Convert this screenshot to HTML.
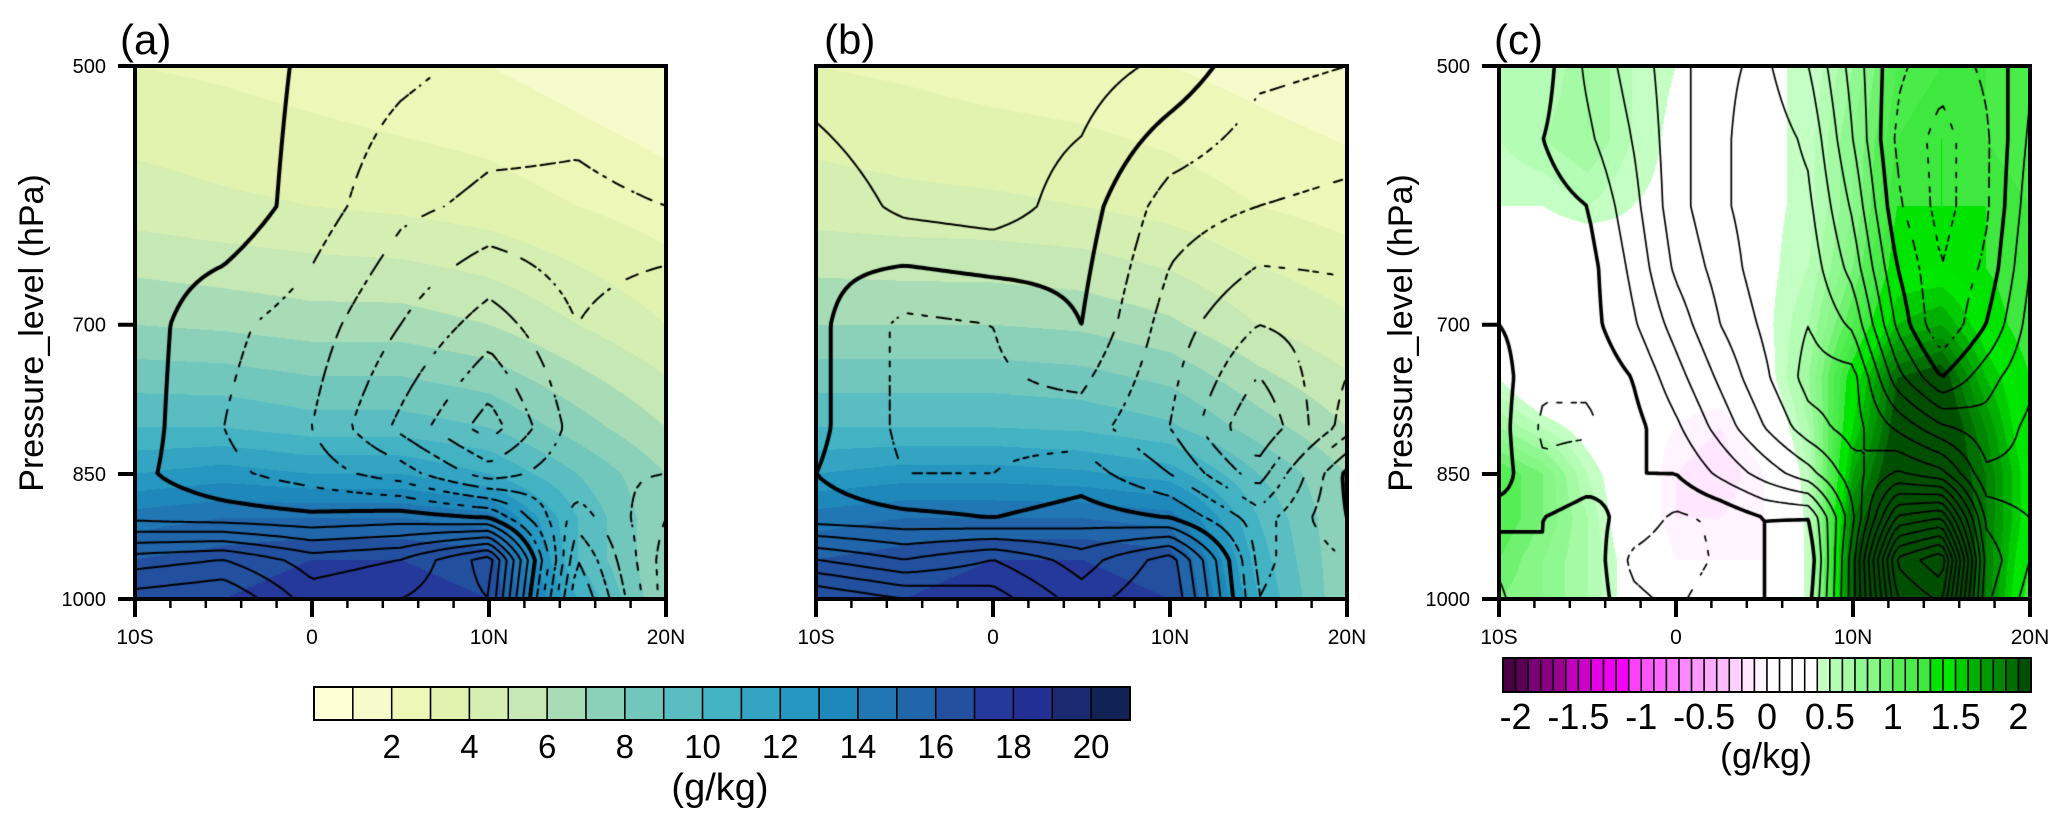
<!DOCTYPE html>
<html><head><meta charset="utf-8">
<style>
html,body{margin:0;padding:0;background:#fff;}
body{width:2067px;height:822px;position:relative;overflow:hidden;font-family:"Liberation Sans",sans-serif;}
canvas{position:absolute;}
svg{position:absolute;left:0;top:0;}
</style></head>
<body>
<canvas id="cva" width="531" height="533" style="left:135px;top:66px"></canvas>
<canvas id="cvb" width="531" height="533" style="left:816px;top:66px"></canvas>
<canvas id="cvc" width="531" height="533" style="left:1499px;top:66px"></canvas>
<svg id="ov" width="2067" height="822"></svg>
<script>
// ---------- data ----------
const latsAB = [-10,-5,0,5,10,15,20];
const presAB = [500,600,700,800,850,900,950,1000];
const qA = [
[3,2.8,2.5,2.2,2,1.5,1],
[4.5,4.2,4,3.8,3.5,3,2.5],
[7,6.8,6.5,6.5,6,5,4],
[10,10,9.5,9.5,9,7.5,6],
[12,12.5,12,12,11,9,7],
[14.5,15,15,15,14.5,10,7],
[16,16.5,17,17,16.5,10,7],
[16,17,17.5,17.5,17,11,7]];
const lineA = [
[0.3,0.3,-0.1,-0.3,-0.5,-0.6,-0.4],
[0.2,0.3,-0.2,-0.7,-0.9,-0.9,-0.8],
[0.2,-0.3,-0.6,-1.2,-1.8,-1.2,-1.6],
[0.2,-0.4,-0.8,-1.7,-2.6,-1.4,-1.4],
[0.1,-0.3,-0.6,-1.0,-1.8,-1.3,-1.2],
[0.3,0.2,0.1,0.2,0.0,-1.8,-0.8],
[1.8,2.0,1.4,1.6,2.6,-2.4,-0.6],
[2.6,2.8,1.8,2.0,2.4,-2.8,-0.6]];
const qB = [
[3,2.8,2.5,2.3,2,1.6,1.2],
[4.5,4.3,4.2,4,3.6,3,2.6],
[7,7,7,6.8,6.2,5,4.2],
[10,10,10,9.8,9.2,7.5,6],
[12,12.5,12.5,12.2,11.5,9,7],
[14.5,15,15,15,14.5,10,7],
[16,16.5,17,17,16.5,10.5,7],
[16,17,17.5,17.5,17,11,7]];
const lineB = [
[0.6,0.8,0.6,0.6,0.3,-0.3,-0.4],
[0.1,0.5,0.6,0.2,-0.6,-0.8,-0.9],
[0.1,-0.5,-0.4,0.0,-1.0,-1.6,-1.4],
[0.1,-0.5,-0.5,-0.6,-1.2,-2.4,-1.0],
[0.0,-0.4,-0.4,-0.2,-0.8,-1.8,0.1],
[0.2,0.1,0.0,0.2,0.0,-1.0,0.0],
[1.6,1.2,1.6,1.0,1.8,-0.9,-0.4],
[2.8,2.4,2.2,1.4,2.0,-0.8,-0.4]];
const latsC = [-10,-7.5,-5,-2.5,0,2.5,5,7.5,10,12.5,15,17.5,20];
const presC = [500,550,600,650,700,750,800,850,900,950,1000];
const diffC = [
[0.5,0.5,0.7,0.5,0.4,0.3,0.4,0.4,0.7,1.1,1.2,1.2,1.1],
[0.5,0.6,0.7,0.5,0.35,0.3,0.35,0.45,0.8,1.2,1.3,1.2,1.1],
[0.4,0.4,0.5,0.4,0.35,0.3,0.35,0.45,0.8,1.3,1.3,1.3,1.2],
[0.35,0.2,0.15,0.3,0.3,0.3,0.35,0.5,0.9,1.4,1.4,1.3,1.2],
[0.35,0.1,0.0,0.1,0.2,0.25,0.35,0.6,1.1,1.6,1.7,1.4,1.2],
[0.4,0.1,0.0,0.0,0.1,0.15,0.3,0.7,1.4,2.0,2.1,1.6,1.3],
[0.7,0.5,0.3,0.1,0.0,-0.1,0.15,0.6,1.5,2.1,2.2,1.8,1.3],
[1.1,0.9,0.5,0.2,-0.1,-0.2,0.0,0.5,1.7,2.2,2.2,1.9,1.4],
[1.1,0.9,0.6,0.2,-0.1,-0.1,0.0,0.45,1.9,2.3,2.3,1.9,1.4],
[1.0,0.8,0.6,0.3,0.0,0.0,0.0,0.45,2.0,2.3,2.3,1.9,1.3],
[0.9,0.8,0.6,0.3,0.0,0.0,0.0,0.45,2.0,2.3,2.3,1.9,1.2]];
const lineC = [
[-0.2,-0.1,0.3,0.6,0.9,1.2,1.3,1.0,0.4,-0.2,-0.4,-0.2,0.2],
[-0.2,0.0,0.2,0.5,0.9,1.2,1.4,1.2,0.5,-0.3,-0.6,-0.3,0.3],
[-0.1,-0.1,0.0,0.4,0.9,1.2,1.4,1.3,0.7,-0.2,-0.6,-0.3,0.4],
[-0.1,-0.1,-0.1,0.3,0.8,1.1,1.4,1.4,0.9,0.0,-0.5,-0.2,0.5],
[0.0,-0.1,-0.1,0.2,0.6,1.0,1.3,1.5,1.2,0.2,-0.5,0.0,0.6],
[0.1,-0.2,-0.2,0.0,0.4,0.8,1.2,1.6,1.6,0.6,0.0,0.4,0.7],
[0.1,-0.3,-0.3,-0.1,0.2,0.6,1.0,1.4,1.6,1.2,0.8,0.6,0.8],
[0.1,-0.2,-0.1,0.0,0.0,0.3,0.6,0.9,1.4,1.8,1.6,0.8,0.8],
[-0.1,0.0,0.1,-0.1,-0.3,-0.2,0.0,0.0,1.2,2.8,3.0,1.2,1.0],
[0.2,0.0,0.2,-0.3,-0.4,-0.2,0.0,-0.2,1.4,3.8,4.2,1.4,1.0],
[0.3,0.0,0.2,-0.2,-0.3,-0.1,0.0,-0.1,1.4,3.5,3.8,1.3,0.9]];
const yTicks = [500,700,850,1000];
const xTickVals = [-10,0,10,20];
const xTickLabels = ['10S','0','10N','20N'];
const cbABLabels = [2,4,6,8,10,12,14,16,18,20];
const cbCLabels = ['-2','-1.5','-1','-0.5','0','0.5','1','1.5','2'];
const colAB = ['#ffffd6','#f6fbcb','#edf7b8','#e2f3b0','#d5eeb2','#c5e8b4','#a8dcb6','#8bd0b9','#72c7bd','#5abdc1','#43b3c4','#33a5c2','#2597c0','#1e88bb','#2077b3','#2165aa','#234f9f','#25399a','#223093','#1a2a70','#112255'];
const colC = ['#4a0045','#5a0055','#7a0075','#88007f','#99008f','#c000bc','#cc00c8','#e600e6','#f000f0','#f800f8','#ff40ff','#ff55ff','#ff66ff','#ff77ff','#ff88ff','#ff99ff','#ffaaff','#ffbbff','#ffd0ff','#ffe8ff','#fff4ff','#ffffff','#ffffff','#ffffff','#ffffff','#c4ffc4','#b4fdb4','#a4fba4','#90f890','#86f686','#70f270','#55ee55','#4aec4a','#3ee83e','#00e400','#00e800','#00cc00','#00b000','#009a00','#008600','#006e00','#004e00'];

// ---------- geometry ----------
const W=531,H=533,T=66;
const LN500=Math.log(500),LN2=Math.log(2);
const xScale=(L,lat)=>L+(lat+10)/30*W;
const yScale=p=>T+(Math.log(p)-LN500)/LN2*H;

function interp(grid,lats,pres,lat,lnp){
  let i=0;while(i<lats.length-2&&lat>lats[i+1])i++;
  const lp=pres.map(Math.log);
  let j=0;while(j<lp.length-2&&lnp>lp[j+1])j++;
  let fx=(lat-lats[i])/(lats[i+1]-lats[i]);fx=Math.max(0,Math.min(1,fx));
  let fy=(lnp-lp[j])/(lp[j+1]-lp[j]);fy=Math.max(0,Math.min(1,fy));
  const a=grid[j][i],b=grid[j][i+1],c=grid[j+1][i],d=grid[j+1][i+1];
  return a*(1-fx)*(1-fy)+b*fx*(1-fy)+c*(1-fx)*fy+d*fx*fy;
}
function hex(h){return [parseInt(h.substr(1,2),16),parseInt(h.substr(3,2),16),parseInt(h.substr(5,2),16)];}
const rgbAB=colAB.map(hex),rgbC=colC.map(hex);
const idxAB=v=>Math.max(0,Math.min(20,Math.floor(v)));
const idxC=v=>Math.max(0,Math.min(41,Math.floor((v+2)/0.1+1e-9)+1));

function drawPanel(cid,fillGrid,lineGrid,lats,pres,rgb,idx,step,kmin,kmax,thin,thick){
  const cv=document.getElementById(cid),ctx=cv.getContext('2d');
  const img=ctx.createImageData(W,H);
  for(let py=0;py<H;py++){
    const lnp=LN500+(py+0.5)/H*LN2;
    for(let px=0;px<W;px++){
      const lat=-10+(px+0.5)/W*30;
      const c=rgb[idx(interp(fillGrid,lats,pres,lat,lnp))];
      const o=(py*W+px)*4;img.data[o]=c[0];img.data[o+1]=c[1];img.data[o+2]=c[2];img.data[o+3]=255;
    }
  }
  ctx.putImageData(img,0,0);
  const N=110,M=110,v=[];
  for(let j=0;j<=M;j++){v.push([]);const lnp=LN500+j/M*LN2;
    for(let i=0;i<=N;i++){v[j].push(interp(lineGrid,lats,pres,-10+i/N*30,lnp));}}
  const sx=W/N,sy=H/M;
  ctx.strokeStyle='#000';ctx.lineCap='round';
  for(let k=kmin;k<=kmax;k++){
    const lev=k*step;
    ctx.lineWidth=(k===0)?thick:thin;
    ctx.beginPath();
    for(let j=0;j<M;j++)for(let i=0;i<N;i++){
      const a=v[j][i],b=v[j][i+1],c=v[j+1][i+1],d=v[j+1][i];
      const pts=[];
      const e=(v1,v2,x1,y1,x2,y2)=>{if((v1>=lev)!==(v2>=lev)){const t=(lev-v1)/(v2-v1);pts.push([x1+(x2-x1)*t,y1+(y2-y1)*t]);}};
      e(a,b,i,j,i+1,j);e(b,c,i+1,j,i+1,j+1);e(d,c,i,j+1,i+1,j+1);e(a,d,i,j,i,j+1);
      for(let q=0;q+1<pts.length;q+=2){
        const x1=pts[q][0]*sx,y1=pts[q][1]*sy,x2=pts[q+1][0]*sx,y2=pts[q+1][1]*sy;
        if(k<0){const mx=(x1+x2)/2,my=(y1+y2)/2;if((Math.floor(mx/7)+Math.floor(my/7))%2)continue;}
        ctx.moveTo(x1,y1);ctx.lineTo(x2,y2);
      }
    }
    ctx.stroke();
  }
}
drawPanel('cva',qA,lineA,latsAB,presAB,rgbAB,idxAB,0.4,-8,8,2,4);
drawPanel('cvb',qB,lineB,latsAB,presAB,rgbAB,idxAB,0.4,-8,8,2,4);
drawPanel('cvc',diffC,lineC,latsC,presC,rgbC,idxC,0.25,-4,18,1.7,3.6);

// ---------- axes overlay ----------
const NS='http://www.w3.org/2000/svg',ov=document.getElementById('ov');
function mk(tag,attrs,parent){const e=document.createElementNS(NS,tag);for(const k in attrs)e.setAttribute(k,attrs[k]);(parent||ov).appendChild(e);return e;}
function txt(s,x,y,size,anchor,parent){const t=mk('text',{x:x,y:y,'font-size':size,'text-anchor':anchor||'middle','font-family':'Liberation Sans, sans-serif',fill:'#000'},parent);t.textContent=s;return t;}

const panelDefs=[{id:'a',L:135,title:'(a)',tx:120,ylab:true,ytitleX:31},{id:'b',L:816,title:'(b)',tx:824,ylab:false},{id:'c',L:1499,title:'(c)',tx:1494,ylab:true,ytitleX:1400}];
panelDefs.forEach(P=>{
  const g=mk('g',{});
  
  
  const fr=mk('rect',{x:P.L,y:T,width:W,height:H,fill:'none',stroke:'#000','stroke-width':4},g);
  
  
  for(let lat=-10;lat<=20;lat+=2){
    const major=(lat%10===0);const x=xScale(P.L,lat);
    const tk=mk('line',{x1:x,x2:x,y1:T+H,y2:T+H+(major?18:9),stroke:'#000','stroke-width':major?4:2.5},g);
    
    
  }
  xTickVals.forEach((lat,i)=>{const t=txt(xTickLabels[i],xScale(P.L,lat),644,21,'middle',g);
    
    });
  if(P.ylab){
    yTicks.forEach(p=>{const y=yScale(p);
      const tk=mk('line',{x1:P.L-17,x2:P.L,y1:y,y2:y,stroke:'#000','stroke-width':4},g);
      
      
      const t=txt(String(p),P.L-29,y+7,20,'end',g);
      
      });
    const yt=txt('Pressure_level (hPa)',0,0,34,'middle',g);
    yt.setAttribute('transform','translate('+(P.ytitleX+12)+',333) rotate(-90)');
    
    
  }
  const tt=txt(P.title,P.tx,54,42,'start',g);
  
  
});

// colorbar a/b
const cb1=mk('g',{});


const cb1L=314,cb1W=816,cb1Y=687,cb1H=33,n1=colAB.length;
colAB.forEach((c,k)=>{const r=mk('rect',{x:cb1L+k*cb1W/n1,y:cb1Y,width:cb1W/n1,height:cb1H,fill:c,stroke:'#000','stroke-width':1.5},cb1);
  
  });
mk('rect',{x:cb1L,y:cb1Y,width:cb1W,height:cb1H,fill:'none',stroke:'#000','stroke-width':2},cb1);
cbABLabels.forEach(v=>{const t=txt(String(v),cb1L+v*cb1W/n1,758,33,'middle',cb1);
  
  });
const u1=txt('(g/kg)',720,800,38,'middle',cb1);



// colorbar c
const cb2=mk('g',{});


const cb2L=1503,cb2W=528,cb2Y=658,cb2H=34,n2=colC.length;
colC.forEach((c,k)=>{const r=mk('rect',{x:cb2L+k*cb2W/n2,y:cb2Y,width:cb2W/n2,height:cb2H,fill:c,stroke:'#000','stroke-width':1.5},cb2);
  
  });
mk('rect',{x:cb2L,y:cb2Y,width:cb2W,height:cb2H,fill:'none',stroke:'#000','stroke-width':2},cb2);
cbCLabels.forEach((s,i)=>{const t=txt(s,cb2L+(1+i*5)*cb2W/n2,729,36,'middle',cb2);
  
  });
const u2=txt('(g/kg)',1766,768,36,'middle',cb2);


</script>
</body></html>
